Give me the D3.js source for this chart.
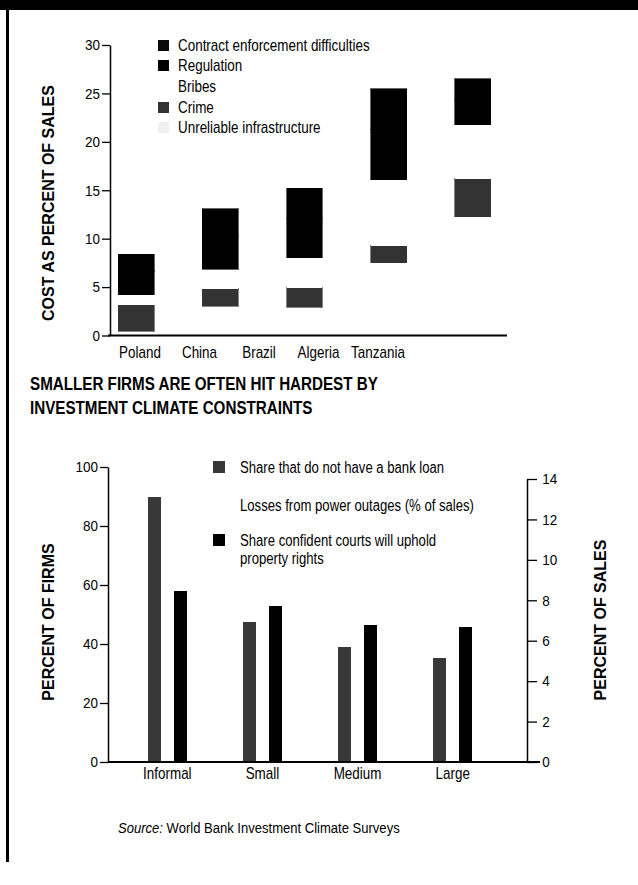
<!DOCTYPE html>
<html><head><meta charset="utf-8">
<script src="https://cdn.jsdelivr.net/npm/d3@7"></script>
<style>
html,body{margin:0;padding:0;background:#fff;}
svg{display:block;}
text{font-family:"Liberation Sans",Arial,sans-serif;fill:#000;}
rect{shape-rendering:crispEdges;}
</style></head><body>
<script>
// ---------- Data: top chart ----------
const costCountries = ["Poland", "China", "Brazil", "Algeria", "Tanzania"];
const costSeriesNames = ["Unreliable infrastructure", "Crime", "Bribes", "Regulation", "Contract enforcement difficulties"];
const infrastructure = [0.45, 3.0, 2.9, 7.5, 12.25];
const crime = [2.65, 1.85, 2.05, 1.75, 3.95];
const bribes = [1.1, 2.0, 3.1, 6.85, 5.55];
const regulation = [2.4, 3.45, 4.0, 5.2, 2.6];
const contractEnforcement = [1.8, 2.8, 3.15, 4.2, 2.15];
const costTicks = [0, 5, 10, 15, 20, 25, 30];

// ---------- Data: bottom chart ----------
const firmSizes = ["Informal", "Small", "Medium", "Large"];
const noBankLoan = [90, 47.5, 39, 35.3];
const powerLosses = [8.0, 6.2, 5.0, 4.4];
const courtsConfidence = [58, 53, 46.6, 45.7];
const firmTicks = [0, 20, 40, 60, 80, 100];
const salesTicks = [0, 2, 4, 6, 8, 10, 12, 14];

const W = 638, H = 885;
const NARROW = 0.84;
const svg = d3.select("body").append("svg").attr("width", W).attr("height", H);

// condensed text helper
function ctext(parent, x, y, str, opts = {}) {
  const t = parent.append("text")
    .attr("transform", `translate(${x},${y}) scale(${opts.sx || NARROW},1)`)
    .attr("font-size", opts.size || 16)
    .attr("text-anchor", opts.anchor || "start");
  if (opts.weight) t.attr("font-weight", opts.weight);
  if (opts.fill) t.attr("fill", opts.fill);
  if (str !== null) t.text(str);
  return t;
}

// frame: top band and left border
svg.append("rect").attr("x", 0).attr("y", 0).attr("width", W).attr("height", 10).attr("fill", "#000");
svg.append("rect").attr("x", 6).attr("y", 0).attr("width", 2.5).attr("height", 862).attr("fill", "#000");

// ---------- Top chart ----------
const costColors = {
  "Unreliable infrastructure": "#ffffff",
  "Crime": "#333333",
  "Bribes": "#ffffff",
  "Regulation": "#000000",
  "Contract enforcement difficulties": "#000000"
};
const costValues = [infrastructure, crime, bribes, regulation, contractEnforcement];
const costRows = costCountries.map((c, i) => {
  const r = {country: c};
  costSeriesNames.forEach((s, j) => r[s] = costValues[j][i]);
  return r;
});
const stack = d3.stack().keys(costSeriesNames)(costRows);

const yTop = d3.scaleLinear().domain([0, 30]).range([335.5, 45]);
const xTop = d3.scaleBand().domain(costCountries).range([108, 501]).paddingInner(0.5727).paddingOuter(0.1187);
const xTopLabels = d3.scalePoint().domain(costCountries).range([140, 378]);

const gTop = svg.append("g");
gTop.selectAll("g.series").data(stack).join("g")
  .attr("fill", d => costColors[d.key])
  .attr("stroke", d => costColors[d.key] === "#ffffff" ? "none" : costColors[d.key])
  .attr("stroke-width", 0.6)
  .selectAll("rect").data(d => d).join("rect")
  .attr("x", d => xTop(d.data.country))
  .attr("width", xTop.bandwidth())
  .attr("y", d => yTop(d[1]))
  .attr("height", d => yTop(d[0]) - yTop(d[1]));

function styleAxis(ax, sx) {
  ax.select(".domain").attr("stroke-width", 1.5);
  ax.selectAll(".tick line").attr("stroke-width", 1.3);
  ax.selectAll(".tick text").attr("font-size", 15)
    .attr("transform", `scale(${sx},1)`);
}

const axTop = gTop.append("g").attr("transform", "translate(110,0)")
  .call(d3.axisLeft(yTop).tickValues(costTicks).tickSize(8).tickSizeOuter(0).tickPadding(3));
styleAxis(axTop, 0.9);
// baseline
gTop.append("line").attr("x1", 108).attr("x2", 507)
  .attr("y1", yTop(0)).attr("y2", yTop(0)).attr("stroke", "#000").attr("stroke-width", 2);
// category labels
costCountries.forEach(c => ctext(gTop, xTopLabels(c), 358, c, {anchor: "middle", size: 16}));
// axis title
gTop.append("text").attr("transform", `translate(54,203) rotate(-90)`)
  .attr("text-anchor", "middle").attr("font-size", 16).attr("font-weight", "bold")
  .text("COST AS PERCENT OF SALES");

// legend
const legendTop = costSeriesNames.slice().reverse();
const legendSwatch = {
  "Unreliable infrastructure": "#f0f0f0",
  "Crime": "#333333",
  "Bribes": "#ffffff",
  "Regulation": "#000000",
  "Contract enforcement difficulties": "#0a0a0a"
};
legendTop.forEach((d, i) => {
  const y = 45 + i * 20.7;
  gTop.append("rect").attr("x", 158).attr("y", y - 5.5).attr("width", 11).attr("height", 11)
    .attr("fill", legendSwatch[d]);
  ctext(gTop, 178, y + 5.5, d, {size: 16, fill: d === "Unreliable infrastructure" ? "#a8a8a8" : "#000"});
});

// ---------- Title ----------
ctext(svg, 30, 390, "SMALLER FIRMS ARE OFTEN HIT HARDEST BY", {size: 19, weight: "bold", sx: 0.8});
ctext(svg, 30, 414, "INVESTMENT CLIMATE CONSTRAINTS", {size: 19, weight: "bold", sx: 0.8});

// ---------- Bottom chart ----------
const yL = d3.scaleLinear().domain([0, 100]).range([762, 467]);
const yR = d3.scaleLinear().domain([0, 14]).range([762, 479]);
const xB = d3.scaleBand().domain(firmSizes).range([124, 496]).paddingInner(0.589).paddingOuter(0.25);
const bottomSeries = [
  {name: "Share that do not have a bank loan", values: noBankLoan, scale: yL, color: "#383838"},
  {name: "Losses from power outages (% of sales)", values: powerLosses, scale: yR, color: "#ffffff"},
  {name: "Share confident courts will uphold property rights", values: courtsConfidence, scale: yL, color: "#000000"}
];
const xSub = d3.scaleBand().domain(bottomSeries.map(s => s.name)).range([0, xB.bandwidth()]);

const gB = svg.append("g");
firmSizes.forEach((f, i) => {
  gB.selectAll(null).data(bottomSeries).join("rect")
    .attr("x", s => xB(f) + xSub(s.name))
    .attr("width", xSub.bandwidth())
    .attr("y", s => s.scale(s.values[i]))
    .attr("height", s => s.scale(0) - s.scale(s.values[i]))
    .attr("fill", s => s.color);
});

const axL = gB.append("g").attr("transform", "translate(108,0)")
  .call(d3.axisLeft(yL).tickValues(firmTicks).tickSize(8).tickSizeOuter(0).tickPadding(3));
styleAxis(axL, 0.9);

const axR = gB.append("g").attr("transform", "translate(527,0)")
  .call(d3.axisRight(yR).tickValues(salesTicks).tickSize(10).tickSizeOuter(0).tickPadding(7));
styleAxis(axR, 0.9);

gB.append("line").attr("x1", 108).attr("x2", 540).attr("y1", yL(0)).attr("y2", yL(0))
  .attr("stroke", "#000").attr("stroke-width", 2);

firmSizes.forEach(f => ctext(gB, xB(f) + xB.bandwidth() / 2, 779, f, {anchor: "middle", size: 16}));

gB.append("text").attr("transform", `translate(54,622) rotate(-90)`)
  .attr("text-anchor", "middle").attr("font-size", 16).attr("font-weight", "bold")
  .text("PERCENT OF FIRMS");
gB.append("text").attr("transform", `translate(606,620) rotate(-90)`)
  .attr("text-anchor", "middle").attr("font-size", 16).attr("font-weight", "bold")
  .text("PERCENT OF SALES");

// bottom legend
const legendRowsY = [467, 505, 540];
bottomSeries.forEach((s, i) => {
  const y = legendRowsY[i];
  gB.append("rect").attr("x", 213).attr("y", y - 6).attr("width", 12).attr("height", 12)
    .attr("fill", s.color);
  if (s.name.startsWith("Share confident")) {
    ctext(gB, 240, y + 6, "Share confident courts will uphold", {size: 16, sx: 0.82});
    ctext(gB, 240, y + 24, "property rights", {size: 16, sx: 0.82});
  } else {
    ctext(gB, 240, y + 6, s.name, {size: 16, sx: 0.82});
  }
});

// source
const src = ctext(svg, 118, 833, null, {size: 15, sx: 0.87});
src.append("tspan").attr("font-style", "italic").text("Source:");
src.append("tspan").text(" World Bank Investment Climate Surveys");
</script>
</body></html>
